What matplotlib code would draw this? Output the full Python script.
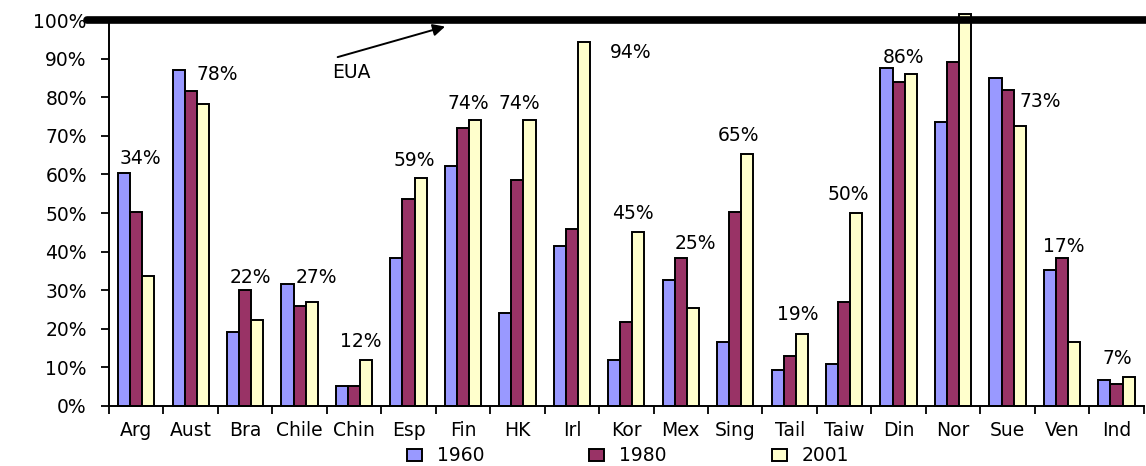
import numpy as np
import matplotlib
matplotlib.use("Agg")
import matplotlib.pyplot as plt

plt.rcParams['font.family'] = ['DejaVu Sans']

# data (share, %)
countries = ["Arg", "Aust", "Bra", "Chile", "Chin", "Esp", "Fin", "HK", "Irl", "Kor",
             "Mex", "Sing", "Tail", "Taiw", "Din", "Nor", "Sue", "Ven", "Ind"]
v1960 = [60.3, 87.1, 19.2, 31.6, 5.2, 38.4, 62.2, 24.0, 41.5, 11.9,
         32.6, 16.6, 9.3, 10.9, 87.6, 73.6, 85.1, 35.2, 6.7]
v1980 = [50.3, 81.5, 30.0, 25.9, 5.2, 53.6, 72.1, 58.6, 45.8, 21.8,
         38.4, 50.3, 13.0, 26.9, 84.0, 89.2, 82.0, 38.4, 5.8]
v2001 = [33.7, 78.3, 22.4, 27.0, 11.9, 59.0, 74.1, 74.1, 94.3, 45.2,
         25.3, 65.2, 18.7, 50.1, 86.0, 101.5, 72.6, 16.6, 7.4]
pct_labels = ["34%", "78%", "22%", "27%", "12%", "59%", "74%", "74%", "94%", "45%",
              "25%", "65%", "19%", "50%", "86%", "", "73%", "17%", "7%"]
years = ["1960", "1980", "2001"]
colors = ["#9999FF", "#993366", "#FFFFCC"]

# where each percent label sits (left edge x, center y in data units)
label_xy = [(-0.30, 64.2), (1.10, 85.8), (1.72, 33.2), (2.93, 33.2), (3.74, 16.6),
            (4.73, 63.5), (5.72, 78.5), (6.65, 78.5), (8.70, 91.7), (8.73, 50.0),
            (9.89, 42.2), (10.68, 70.2), (11.76, 23.6), (12.70, 54.7), (13.71, 90.4),
            (15.0, 0), (16.22, 79.0), (16.65, 41.2), (17.75, 12.2)]

fig = plt.figure(figsize=(11.46, 4.66), dpi=100)
ax = fig.add_axes([0.0951, 0.1288, 0.9029, 0.8282])

x = np.arange(len(countries))
w = 1 / 4.5
for i, vals in enumerate([v1960, v1980, v2001]):
    ax.bar(x + (i - 1) * w, vals, w, color=colors[i], edgecolor="black",
           linewidth=1.4, label=years[i], clip_on=False, zorder=2)

for (lx, ly), txt in zip(label_xy, pct_labels):
    if txt:
        ax.text(lx, ly, txt, ha="left", va="center", fontsize=13.5, zorder=4)

ax.set_xlim(-0.5, len(countries) - 0.5)
ax.set_ylim(0, 100)
ax.set_yticks(np.arange(0, 101, 10))
ax.set_yticklabels([f"{t}%" for t in range(0, 101, 10)], fontsize=13.5)
ax.set_xticks(np.arange(-0.5, len(countries), 1))
ax.set_xticklabels([])
ax.set_xticks(x, minor=True)
ax.set_xticklabels(countries, minor=True, fontsize=13.5)
ax.tick_params(axis="x", which="minor", length=0, pad=11)
ax.tick_params(axis="x", which="major", length=6, width=1.3, direction="out")
ax.tick_params(axis="y", length=6, width=1.3, direction="out", pad=10)
ax.spines["top"].set_visible(False)
ax.spines["right"].set_visible(False)
ax.spines["left"].set_linewidth(1.4)
ax.spines["bottom"].set_linewidth(1.4)

# EUA reference line at 100%
ax.plot([-0.9, 18.6], [100, 100], color="black", lw=5.5, solid_capstyle="round",
        clip_on=False, zorder=5)
ax.annotate("", xy=(5.72, 98.5), xytext=(3.65, 90.2),
            arrowprops=dict(arrowstyle="-|>", color="black", lw=1.4, mutation_scale=18),
            zorder=5)
ax.text(3.95, 86.5, "EUA", ha="center", va="center", fontsize=13.5)

fig.legend(loc="lower center", ncol=3, frameon=False, fontsize=13.5,
           handlelength=0.8, handleheight=0.6, columnspacing=5.6,
           bbox_to_anchor=(0.548, -0.035))

fig.savefig("out.png", dpi=100)
